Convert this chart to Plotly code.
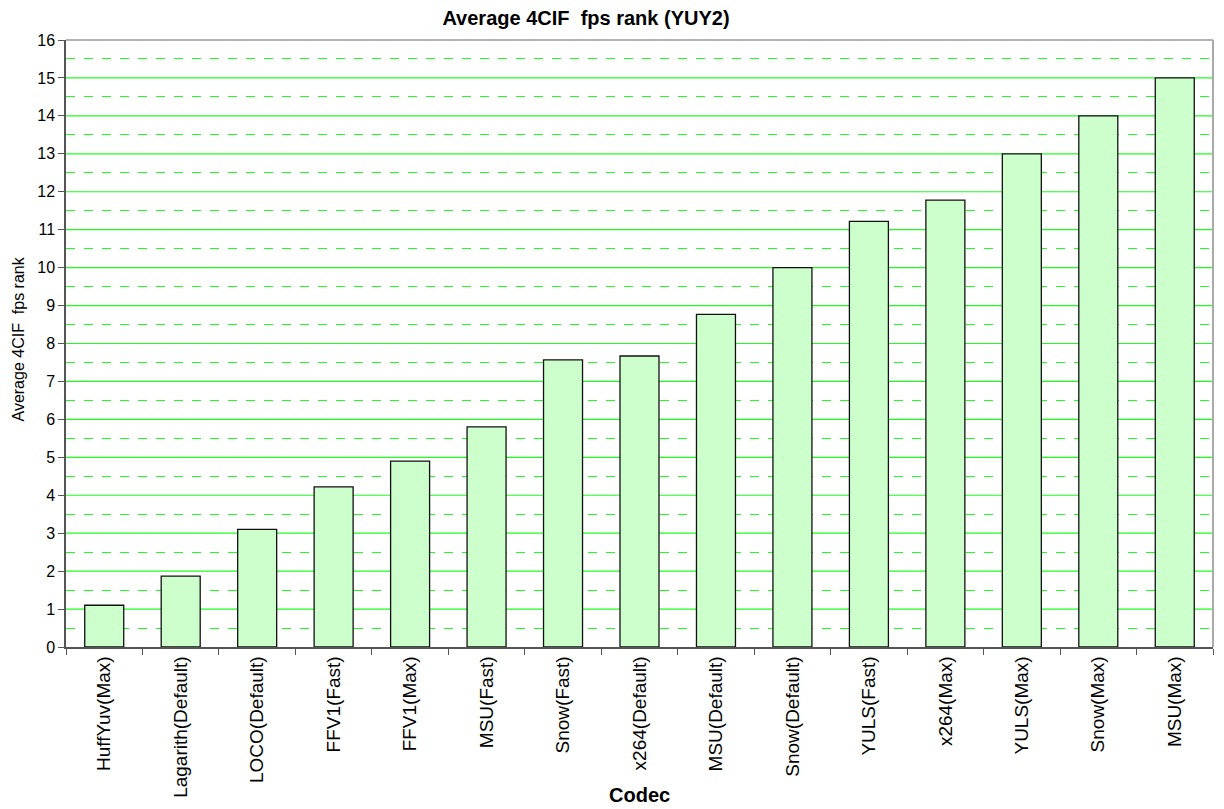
import plotly.graph_objects as go

codecs = ["HuffYuv(Max)", "Lagarith(Default)", "LOCO(Default)", "FFV1(Fast)", "FFV1(Max)",
          "MSU(Fast)", "Snow(Fast)", "x264(Default)", "MSU(Default)", "Snow(Default)",
          "YULS(Fast)", "x264(Max)", "YULS(Max)", "Snow(Max)", "MSU(Max)"]
ranks = [1.1, 1.87, 3.1, 4.22, 4.9, 5.8, 7.57, 7.67, 8.77, 10.0, 11.22, 11.78, 13.0, 14.0, 15.0]
y_min, y_max, y_step = 0, 16, 1
major_grid = list(range(y_min + y_step, y_max, y_step))

# page body has an 8px margin, so the figure is drawn 8px smaller than the window
W, H = 1216, 801
font = "Liberation Sans, Arial, sans-serif"
green = "#1eff1e"

fig = go.Figure()
fig.add_trace(go.Bar(
    x=codecs, y=ranks,
    marker=dict(color="#ccffcc", line=dict(color="#111111", width=1.3)),
    showlegend=False,
))

fig.update_layout(
    width=W, height=H,
    margin=dict(l=58, r=11, t=32, b=162, autoexpand=False),
    paper_bgcolor="white", plot_bgcolor="white",
    bargap=0.49,
    font=dict(family=font, color="black", size=16),
    title=dict(text="<b>Average 4CIF&nbsp; fps rank (YUY2)</b>", x=578 / W, xanchor="center",
               y=1 - 3 / H, yanchor="top", font=dict(size=20, family=font)),
    xaxis=dict(
        tickangle=-90, tickfont=dict(size=19), tickson="boundaries",
        ticks="outside", ticklen=6, tickcolor="#555555",
        showline=True, linecolor="#555555", linewidth=1.5,
        showgrid=False, automargin=False,
    ),
    yaxis=dict(
        range=[y_min, y_max], tick0=0, dtick=y_step, tickfont=dict(size=16),
        ticks="outside", ticklen=6, tickcolor="#555555",
        showline=True, linecolor="#555555", linewidth=1.5,
        showgrid=False, zeroline=False, automargin=False,
        minor=dict(dtick=y_step / 2, showgrid=True, gridcolor=green, griddash="dash",
                   gridwidth=1, ticks=""),
    ),
    annotations=[
        dict(text="<b>Codec</b>", xref="paper", yref="paper", x=0.5, y=0,
             xanchor="center", yanchor="middle", yshift=-148, showarrow=False,
             font=dict(size=20, family=font)),
        dict(text="Average 4CIF&nbsp; fps rank", xref="paper", yref="paper", x=0, y=0.5,
             xanchor="center", yanchor="middle", xshift=-48, yshift=4, textangle=-90,
             showarrow=False, font=dict(size=16, family=font)),
    ],
)
# solid green major gridlines
for v in major_grid:
    fig.add_shape(type="line", xref="paper", yref="y", x0=0, x1=1, y0=v, y1=v,
                  layer="below", line=dict(color=green, width=1.2))
# top and right border of the plot area
fig.add_shape(type="line", xref="paper", yref="paper", x0=0, x1=1, y0=1, y1=1,
              line=dict(color="#999999", width=1.5))
fig.add_shape(type="line", xref="paper", yref="paper", x0=1, x1=1, y0=0, y1=1,
              line=dict(color="#aaaaaa", width=2))

fig.write_html("out.html")
